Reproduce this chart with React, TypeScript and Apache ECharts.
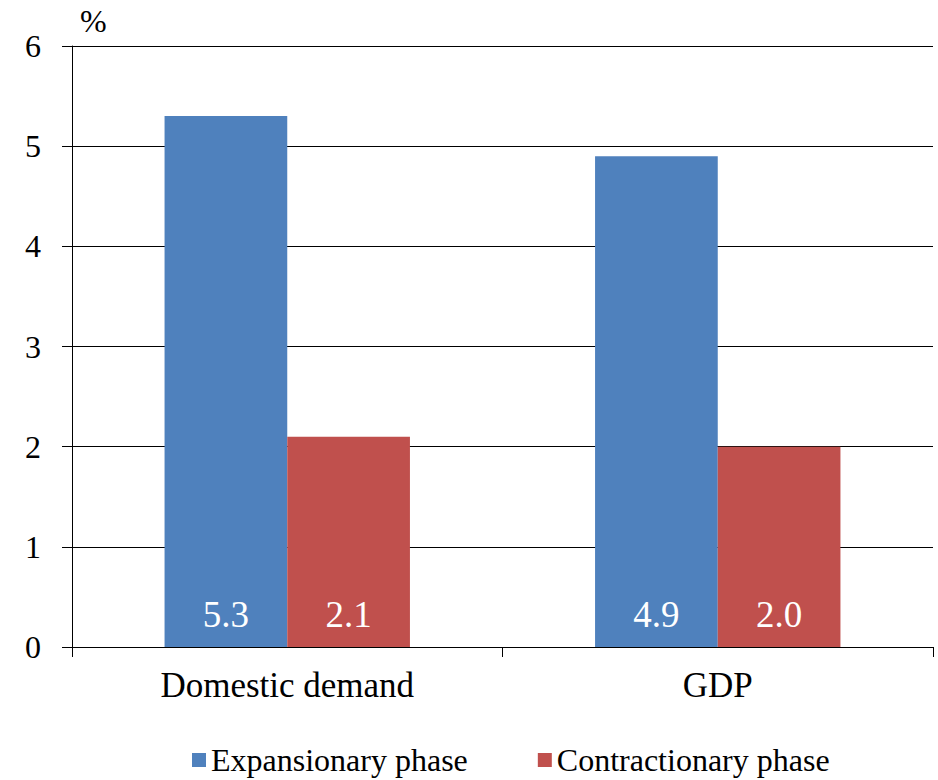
import React, { useEffect, useRef } from "react";
import * as echarts from "echarts";

const categories = ["Domestic demand", "GDP"];
const expansionary = [5.3, 4.9];
const contractionary = [2.1, 2.0];
const seriesNames = ["Expansionary phase", "Contractionary phase"];
const unitLabel = "%";
const FONT = "Liberation Serif";

export default function App() {
  const ref = useRef<HTMLDivElement>(null);
  useEffect(() => {
    document.body.style.margin = "0";
    if (!ref.current) return;
    const chart = echarts.init(ref.current, undefined, { renderer: "svg" });
    const label = {
      show: true,
      position: "insideBottom",
      distance: 14,
      color: "#ffffff",
      fontSize: 37,
      fontFamily: FONT,
      formatter: (p: any) => Number(p.value).toFixed(1),
    };
    chart.setOption({
      animation: false,
      textStyle: { fontFamily: FONT },
      grid: { left: 72, right: 5, top: 46, bottom: 133, containLabel: false },
      legend: {
        top: 744,
        left: 192,
        padding: 0,
        itemWidth: 14,
        itemHeight: 14,
        itemGap: 70,
        icon: "rect",
        textStyle: { fontSize: 32, color: "#000", fontFamily: FONT },
        data: seriesNames,
      },
      graphic: [
        {
          type: "text",
          left: 80,
          top: 5,
          style: { text: unitLabel, fontSize: 32, fill: "#000", fontFamily: FONT },
        },
      ],
      xAxis: {
        type: "category",
        data: categories,
        axisLine: { lineStyle: { color: "#000", width: 1 } },
        axisTick: { show: true, length: 10, lineStyle: { color: "#000" } },
        axisLabel: { color: "#000", fontSize: 35, margin: 21, fontFamily: FONT },
      },
      yAxis: {
        type: "value",
        min: 0,
        max: 6,
        interval: 1,
        axisLine: { show: true, lineStyle: { color: "#000", width: 1 } },
        axisTick: { show: true, length: 10, lineStyle: { color: "#000" } },
        axisLabel: { color: "#000", fontSize: 32, margin: 31, fontFamily: FONT },
        splitLine: { lineStyle: { color: "#000", width: 1 } },
      },
      series: [
        {
          name: seriesNames[0],
          type: "bar",
          data: expansionary,
          barWidth: "28.5%",
          barGap: "0%",
          barCategoryGap: "43%",
          itemStyle: { color: "#4F81BD" },
          label,
        },
        {
          name: seriesNames[1],
          type: "bar",
          data: contractionary,
          barWidth: "28.5%",
          barGap: "0%",
          itemStyle: { color: "#C0504D" },
          label,
        },
      ],
    });
    return () => chart.dispose();
  }, []);
  return <div ref={ref} style={{ width: 938, height: 780 }} />;
}
